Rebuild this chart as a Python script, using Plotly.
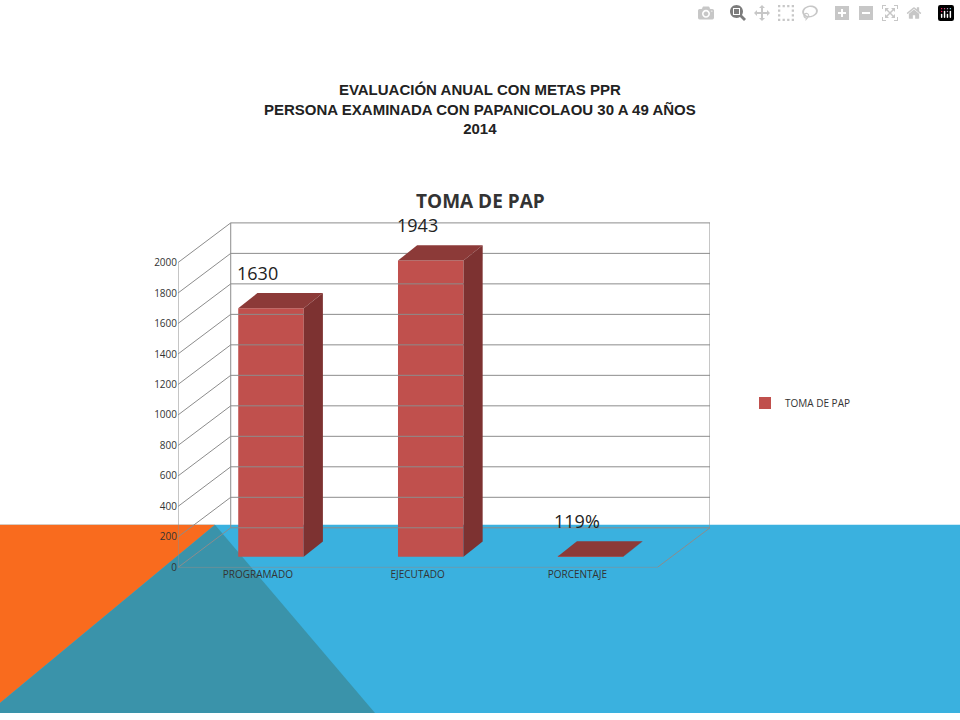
import plotly.graph_objects as go

categories = ["PROGRAMADO", "EJECUTADO", "PORCENTAJE"]
values = [1630, 1943, 1.19]
value_labels = ["1630", "1943", "119%"]
tick_values = [0, 200, 400, 600, 800, 1000, 1200, 1400, 1600, 1800, 2000]

# 3D look: depth offsets in data units
dx, dy = 0.33, 260
bar_dx, bar_dy = 0.12, 100
base = 70
bar_off, bar_w = -0.123, 0.41
front = "#C0504D"
top_c = "#8C3A38"
side_c = "#7D3231"
grid = "#8C8C8C"

fig = go.Figure()
xs = list(range(len(categories)))
fig.add_trace(go.Bar(x=xs, y=values, base=[base] * 3, width=bar_w, offset=bar_off,
                     marker=dict(color=front, line=dict(width=0)), name="TOMA DE PAP",
                     showlegend=True))

shapes = []
# background slide decoration
shapes.append(dict(type="rect", xref="paper", yref="paper", x0=0, x1=1, y0=0, y1=1 - 530 / 720,
                   fillcolor="#3AB1DF", line_width=0, layer="below"))
shapes.append(dict(type="path", xref="paper", yref="paper",
                   path=f"M 0 {1-530/720} L {215/960} {1-530/720} L 0 {1-710/720} Z",
                   fillcolor="#F96B1E", line_width=0, layer="below"))
shapes.append(dict(type="path", xref="paper", yref="paper",
                   path=f"M {215/960} {1-530/720} L {375/960} 0 L 0 0 L 0 {1-710/720} Z",
                   fillcolor="#3A93AA", line_width=0, layer="below"))

L, R = -0.5, 2.5
# gridlines with slanted side wall
for v in tick_values:
    shapes.append(dict(type="path", xref="x", yref="y",
                       path=f"M {L} {v} L {L+dx} {v+dy} L {R+dx} {v+dy}",
                       line=dict(color=grid, width=1)))
shapes.append(dict(type="line", xref="x", yref="y", x0=L, x1=L, y0=0, y1=2000, line=dict(color=grid, width=1)))
shapes.append(dict(type="line", xref="x", yref="y", x0=L+dx, x1=L+dx, y0=dy, y1=2000+dy, line=dict(color=grid, width=1)))
shapes.append(dict(type="line", xref="x", yref="y", x0=R+dx, x1=R+dx, y0=dy, y1=2000+dy, line=dict(color=grid, width=1)))
shapes.append(dict(type="path", xref="x", yref="y", path=f"M {L} 0 L {R} 0 L {R+dx} {dy}",
                   line=dict(color=grid, width=1)))

annotations = []
for i, v in enumerate(values):
    x0 = i + bar_off
    x1 = x0 + bar_w
    t = base + v
    shapes.append(dict(type="path", xref="x", yref="y",
                       path=f"M {x0} {t} L {x0+bar_dx} {t+bar_dy} L {x1+bar_dx} {t+bar_dy} L {x1} {t} Z",
                       fillcolor=top_c, line_width=0))
    shapes.append(dict(type="path", xref="x", yref="y",
                       path=f"M {x1} {base} L {x1+bar_dx} {base+bar_dy} L {x1+bar_dx} {t+bar_dy} L {x1} {t} Z",
                       fillcolor=side_c, line_width=0))
    annotations.append(dict(x=i, y=t + bar_dy + 40, xref="x", yref="y", text=value_labels[i],
                            showarrow=False, yanchor="bottom", font=dict(size=18, color="#222", family="Open Sans")))

annotations.append(dict(x=0.5, y=1 - 80 / 720, xref="paper", yref="paper", showarrow=False,
                        text="<b>EVALUACIÓN ANUAL CON METAS PPR<br>PERSONA EXAMINADA CON PAPANICOLAOU 30 A 49 AÑOS<br>2014</b>",
                        font=dict(size=15, color="#222", family="Liberation Sans")))
annotations.append(dict(x=0.5, y=1 - 188 / 720, xref="paper", yref="paper", showarrow=False,
                        text="<b>TOMA DE PAP</b>", font=dict(size=19, color="#333", family="Open Sans")))

fig.update_layout(
    width=960, height=720, margin=dict(l=0, r=0, t=0, b=0),
    paper_bgcolor="white", plot_bgcolor="rgba(0,0,0,0)",
    shapes=shapes, annotations=annotations,
    xaxis=dict(domain=[178 / 960, 710 / 960], range=[L, R + dx], tickvals=xs, ticktext=categories,
               showgrid=False, zeroline=False, tickfont=dict(size=10, color="#333", family="Open Sans"),
               ticks="", showline=False),
    yaxis=dict(domain=[1 - 573 / 720, 1 - 222 / 720], range=[0, 2280], tickvals=tick_values,
               showgrid=False, zeroline=False, tickfont=dict(size=10, color="#333", family="Open Sans"),
               ticks="", showline=False),
    legend=dict(x=745 / 960, y=1 - 407 / 720, yanchor="middle", xanchor="left",
                font=dict(size=10, color="#333", family="Open Sans"), bgcolor="rgba(0,0,0,0)"),
)

fig.write_html("out.html", post_script="document.body.style.margin='0';")
